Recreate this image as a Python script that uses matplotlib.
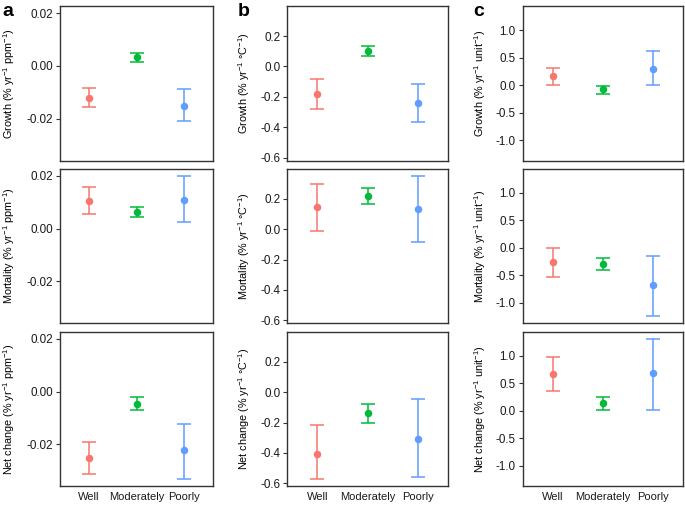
import matplotlib
matplotlib.use('Agg')
import matplotlib.pyplot as plt
import numpy as np

plt.rcParams['font.family'] = ['Liberation Sans', 'DejaVu Sans']
plt.rcParams['mathtext.default'] = 'regular'

categories = ['Well', 'Moderately', 'Poorly']
colors = ['#F8766D', '#00BA38', '#619CFF']

# column a: CO2 (per ppm)
a_growth_mean = [-0.0120, 0.0033, -0.0150]
a_growth_low = [-0.0156, 0.0016, -0.0210]
a_growth_high = [-0.0084, 0.0048, -0.0089]
a_mort_mean = [0.0105, 0.0064, 0.0110]
a_mort_low = [0.0054, 0.0044, 0.0025]
a_mort_high = [0.0157, 0.0084, 0.0201]
a_net_mean = [-0.0251, -0.0045, -0.0223]
a_net_low = [-0.0311, -0.0071, -0.0332]
a_net_high = [-0.0191, -0.0022, -0.0121]

# column b: temperature (per degC)
b_growth_mean = [-0.182, 0.101, -0.243]
b_growth_low = [-0.279, 0.069, -0.368]
b_growth_high = [-0.082, 0.136, -0.115]
b_mort_mean = [0.148, 0.220, 0.133]
b_mort_low = [-0.011, 0.167, -0.083]
b_mort_high = [0.296, 0.272, 0.352]
b_net_mean = [-0.404, -0.139, -0.311]
b_net_low = [-0.573, -0.202, -0.558]
b_net_high = [-0.215, -0.078, -0.042]

# column c: per unit
c_growth_mean = [0.163, -0.078, 0.295]
c_growth_low = [-0.005, -0.157, -0.005]
c_growth_high = [0.313, -0.024, 0.627]
c_mort_mean = [-0.265, -0.289, -0.675]
c_mort_low = [-0.524, -0.398, -1.24]
c_mort_high = [0.0, -0.181, -0.139]
c_net_mean = [0.672, 0.144, 0.685]
c_net_low = [0.36, 0.012, 0.023]
c_net_high = [0.978, 0.252, 1.31]

columns = [
    ('a', ' ppm', [-0.02, 0.0, 0.02], '%.2f',
     [(a_growth_mean, a_growth_low, a_growth_high),
      (a_mort_mean, a_mort_low, a_mort_high),
      (a_net_mean, a_net_low, a_net_high)]),
    ('b', ' °C', [-0.6, -0.4, -0.2, 0.0, 0.2], '%.1f',
     [(b_growth_mean, b_growth_low, b_growth_high),
      (b_mort_mean, b_mort_low, b_mort_high),
      (b_net_mean, b_net_low, b_net_high)]),
    ('c', ' unit', [-1.0, -0.5, 0.0, 0.5, 1.0], '%.1f',
     [(c_growth_mean, c_growth_low, c_growth_high),
      (c_mort_mean, c_mort_low, c_mort_high),
      (c_net_mean, c_net_low, c_net_high)]),
]
row_names = ['Growth', 'Mortality', 'Net change']

W, H = 685, 505
fig = plt.figure(figsize=(W / 100, H / 100), dpi=100)

col_left = [60, 287.3, 522.7]
col_width = [153, 161, 160.6]
col_label_x = [9, 244.5, 480]
row_top = [6, 168.7, 331.7]
row_h = 154.5

x = np.arange(len(categories))
for ci, (letter, unit, ticks, fmt, rows) in enumerate(columns):
    lo_all = min(min(r[1]) for r in rows)
    hi_all = max(max(r[2]) for r in rows)
    pad = 0.05 * (hi_all - lo_all)
    for ri, (mean, low, high) in enumerate(rows):
        ax = fig.add_axes([col_left[ci] / W, 1 - (row_top[ri] + row_h) / H,
                           col_width[ci] / W, row_h / H])
        for i in range(len(categories)):
            ax.errorbar(x[i], mean[i],
                        yerr=[[mean[i] - low[i]], [high[i] - mean[i]]],
                        fmt='o', color=colors[i], ms=4.4, elinewidth=1.1,
                        capsize=5.3, capthick=1.1)
        ax.set_xlim(-0.6, 2.6)
        ax.set_ylim(lo_all - pad, hi_all + pad)
        ax.set_yticks(ticks)
        ax.set_yticklabels([fmt % t for t in ticks])
        ax.tick_params(axis='y', length=3, width=0.8, pad=2,
                       labelsize=8.4, colors='#333333', labelcolor='#1a1a1a')
        ax.set_xticks(x)
        if ri == 2:
            ax.set_xticklabels(categories)
            ax.tick_params(axis='x', length=0, pad=4, labelsize=8,
                           labelcolor='#1a1a1a')
        else:
            ax.tick_params(axis='x', length=0, labelbottom=False)
        for sp in ax.spines.values():
            sp.set_color('#333333')
            sp.set_linewidth(1.0)
        label = row_names[ri] + ' (% yr$^{-1}$' + unit + '$^{-1}$)'
        fig.text(col_label_x[ci] / W, 1 - (row_top[ri] + row_h / 2) / H, label,
                 rotation=90, ha='center', va='center', fontsize=7.8)
    fig.text((col_label_x[ci] - 1) / W, 1 - 12 / H, letter,
             fontsize=14, fontweight='bold', ha='center', va='center')

fig.savefig('out.png', dpi=100)
